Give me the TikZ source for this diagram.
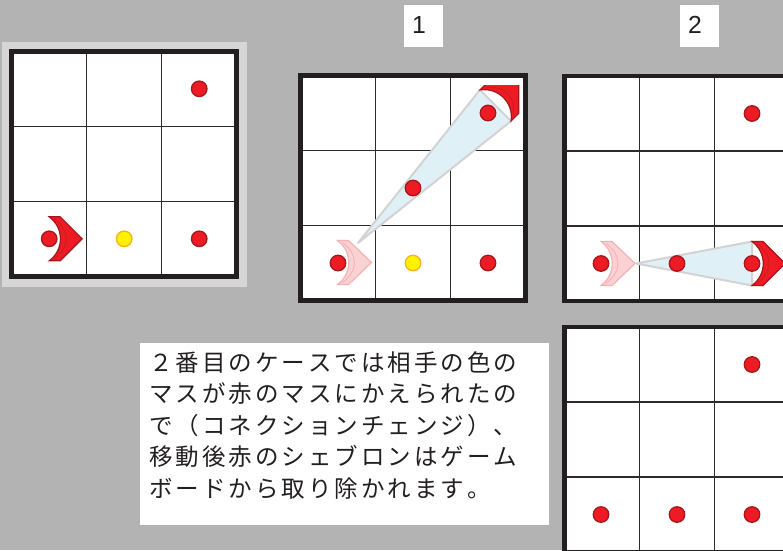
\documentclass[tikz,border=0pt]{standalone}
\usepackage{fontspec}
\setmainfont{Liberation Sans}
\newfontfamily\jpfont{Noto Sans CJK JP}
\definecolor{bggray}{HTML}{B3B3B3}
\definecolor{hlgray}{HTML}{D6D6D6}
\definecolor{ink}{HTML}{231F20}
\definecolor{gridink}{HTML}{2B2B2B}
\definecolor{dotred}{HTML}{ED1C24}
\definecolor{dotdark}{HTML}{A3171D}
\definecolor{dotyellow}{HTML}{FFF200}
\definecolor{dotorange}{HTML}{F8B21B}
\definecolor{fanfill}{HTML}{DFF0F6}
\definecolor{fanedge}{HTML}{D3D3D3}
\definecolor{fadefill}{HTML}{FAD2D4}
\definecolor{fadeedge}{HTML}{F5B2B6}
\newcommand\pitchline[1]{\pitchA#1\relax}
\def\pitchA#1{\ifx\relax#1\else\hbox to 26.5pt{\hss#1\hss}\expandafter\pitchA\fi}
\newcommand\boardgrid[2]{%
  \fill[white] (#1,#2) rectangle ++(225,225);
  \foreach \k in {1,2}{
    \draw[thinline] ({#1+75*\k},#2) -- ++(0,225);
    \draw[thinline] (#1,{#2+75*\k}) -- ++(225,0);
  }
  \draw[frameline] (#1,#2) rectangle ++(225,225);
}
\tikzset{
  thinline/.style={draw=gridink, line width=1.4},
  frameline/.style={draw=ink, line width=4.6},
  reddot/.style={circle, fill=dotred, draw=dotdark, line width=1.3, minimum size=15.5, inner sep=0},
  yellowdot/.style={circle, fill=dotyellow, draw=dotorange, line width=1.3, minimum size=15.5, inner sep=0},
  fan/.style={fill=fanfill, draw=fanedge, line width=2, line join=round},
  jptext/.style={font=\jpfont\fontsize{23.5}{28}\selectfont, text=ink, inner sep=0, anchor=base west},
  numtext/.style={font=\fontsize{24.7}{30}\selectfont, text=ink, inner sep=0, anchor=base},
  redchev/.pic={
    \filldraw[fill=dotred, draw=dotdark, line width=1.2] (0,-22) -- (11,-22) -- (33,0) -- (11,22) -- (0,22)
      .. controls (15,11) and (15,-11) .. (0,-22) -- cycle;
    \draw[dotred!55!dotdark, line width=0.8] (5,-20) .. controls (21,-8) and (21,8) .. (5,20);
  },
  fadechev/.pic={
    \filldraw[fill=fadefill, draw=fadeedge, line width=1.2] (0,-22) -- (11,-22) -- (34,0) -- (11,22) -- (0,22)
      .. controls (15,11) and (15,-11) .. (0,-22) -- cycle;
    \draw[fadeedge, line width=0.9] (5,-20) .. controls (21,-8) and (21,8) .. (5,20);
  },
}
\begin{document}
\begin{tikzpicture}[x=1pt,y=-1pt]
\clip (0,0) rectangle (783,550);
\fill[bggray] (0,0) rectangle (783,550);

% number labels
\fill[white] (404,5) rectangle (443,47);
\fill[white] (680,5) rectangle (719,47);
\node[numtext] (lab1) at (419,33) {1};
\node[numtext] (lab2) at (695,33) {2};

% board 0 (highlighted)
\fill[hlgray] (2,42) rectangle (247,287);
\boardgrid{11.7}{51.3}
\pic at (49.2,238.8) {redchev};
\node[reddot] (b0d1) at (199.2,88.8) {};
\node[reddot] (b0d2) at (49.2,238.8) {};
\node[yellowdot] (b0y) at (124.2,238.8) {};
\node[reddot] (b0d3) at (199.2,238.8) {};

% board 1
\boardgrid{300.5}{75.5}
\coordinate (f1apex) at (358,243);
\coordinate (f1a) at (479.9,89.9);
\coordinate (f1b) at (511.1,121.1);
\filldraw[fan] (f1apex) -- (f1a) -- (f1b) -- cycle;
\pic at (337.5,262.5) {fadechev};
\begin{scope}
  \clip (451,85) rectangle (520.5,150);
  \pic[rotate=45] at (495.5,105.5) {redchev};
\end{scope}
\node[reddot] (b1d1) at (488,113) {};
\node[reddot] (b1d2) at (413,188) {};
\node[reddot] (b1d3) at (338,263) {};
\node[yellowdot] (b1y) at (413,263) {};
\node[reddot] (b1d4) at (488,263) {};

% board 2
\boardgrid{564.5}{76}
\coordinate (f2apex) at (636,263.5);
\coordinate (f2a) at (752,241.5);
\coordinate (f2b) at (752,285.5);
\filldraw[fan] (f2apex) -- (f2a) -- (f2b) -- cycle;
\pic at (601,263.5) {fadechev};
\pic at (752,263.5) {redchev};
\node[reddot] (b2d1) at (752,113.5) {};
\node[reddot] (b2d2) at (601,263.5) {};
\node[reddot] (b2d3) at (677,263.5) {};
\node[reddot] (b2d4) at (752,263.5) {};

% board 3
\boardgrid{564.5}{327}
\node[reddot] (b3d1) at (752,364.5) {};
\node[reddot] (b3d2) at (601,514.5) {};
\node[reddot] (b3d3) at (677,514.5) {};
\node[reddot] (b3d4) at (752,514.5) {};

% caption
\fill[white] (140,343) rectangle (549,525);
\node[jptext] (t1) at (147.5,371.4) {\pitchline{２番目のケースでは相手の色の}};
\node[jptext] (t2) at (147.5,402.9) {\pitchline{マスが赤のマスにかえられたの}};
\node[jptext] (t3) at (147.5,434.4) {\pitchline{で（コネクションチェンジ）、}};
\node[jptext] (t4) at (147.5,465.9) {\pitchline{移動後赤のシェブロンはゲーム}};
\node[jptext] (t5) at (147.5,497.4) {\pitchline{ボードから取り除かれます。}};
\end{tikzpicture}
\end{document}
